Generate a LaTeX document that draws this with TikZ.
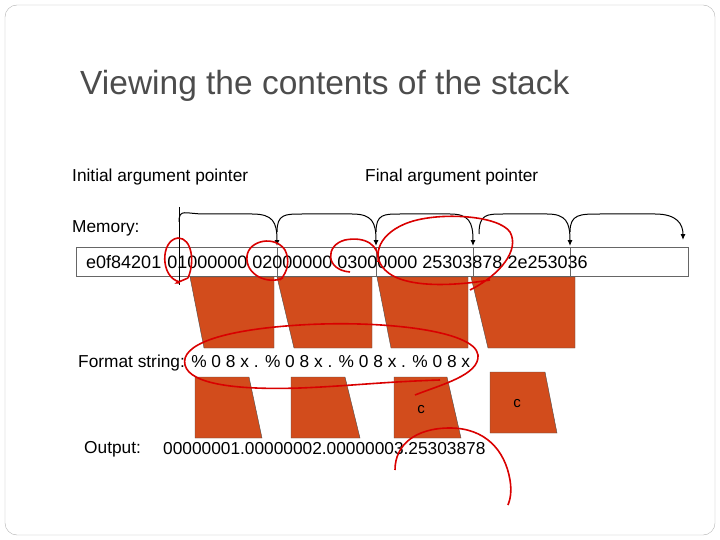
\documentclass[tikz,border=0pt]{standalone}
\usepackage{fontspec}
\setmainfont{Liberation Sans}
\usetikzlibrary{arrows.meta}
\definecolor{rust}{RGB}{210,76,28}
\begin{document}
\begin{tikzpicture}[x=1pt,y=-1pt,
  lbl/.style={anchor=west,inner sep=0pt,font=\fontsize{17.3}{19}\selectfont},
  trap/.style={fill=rust,draw=black!70,line width=0.4pt},
  arc/.style={draw=black,line width=1pt,-{Latex[length=6pt,width=5pt]}},
  ann/.style={draw=red!85!black,line width=1.6pt}]
\useasboundingbox (0,0) rectangle (720,540);
\draw[black!30,rounded corners=12pt] (5,5) rectangle (715,535);
\node[anchor=west,inner sep=0pt,text=black!70,font=\fontsize{33.5}{36}\selectfont] (title) at (80,86) {Viewing the contents of the stack};
\node[lbl] (ini) at (72,177) {Initial argument pointer};
\node[lbl] (fin) at (365,177) {Final argument pointer};
\node[lbl] (memlbl) at (72,228) {Memory:};
% memory box
\draw[black!60] (76,247) rectangle (688,276);
\foreach \x in {179,277,376,473,570} \draw[black!60] (\x,247) -- (\x,276);
\node[lbl,font=\fontsize{18}{20}\selectfont] (mem) at (86,262) {e0f84201\hspace{6pt}01000000 02000000 03000000 25303878 2e253036};
% pointer line
\draw[black,line width=1pt] (179,207) -- (179,285);
\coordinate (p0) at (179,222);
\coordinate (p1) at (277,246);
\coordinate (p2) at (376,246);
\coordinate (p3) at (473,246);
\coordinate (p3s) at (479,234);
\coordinate (p4) at (570,246);
\coordinate (p5) at (683,240);
\draw[arc] (p0) .. controls (179,208) and (185,214) .. (205,214) -- (252,214) .. controls (273,214) and (277,222) .. (p1);
\draw[arc] (277,232) .. controls (277,214) and (285,214) .. (302,214) -- (352,214) .. controls (372,214) and (376,222) .. (p2);
\draw[arc] (376,232) .. controls (376,214) and (384,214) .. (400,214) -- (450,214) .. controls (469,214) and (473,222) .. (p3);
\draw[arc] (p3s) .. controls (479,214) and (487,214) .. (503,214) -- (547,214) .. controls (566,214) and (570,222) .. (p4);
\draw[arc] (570,232) .. controls (570,214) and (580,214) .. (600,214) -- (655,214) .. controls (677,214) and (683,224) .. (p5);
% top trapezoids
\draw[trap] (190,277) -- (274,277) -- (274,348) -- (204,348) -- cycle;
\draw[trap] (277,277) -- (372,277) -- (372,348) -- (294,348) -- cycle;
\draw[trap] (377,277) -- (468,277) -- (468,348) -- (391,348) -- cycle;
\draw[trap] (471,277) -- (575,277) -- (575,348) -- (488,348) -- cycle;
\node[lbl] (fmt) at (78,363) {Format string: \% 0 8 x . \% 0 8 x . \% 0 8 x . \% 0 8 x};
% bottom trapezoids
\draw[trap] (195,377) -- (249,377) -- (262,438) -- (195,438) -- cycle;
\draw[trap] (291,377) -- (345,377) -- (360,438) -- (291,438) -- cycle;
\draw[trap] (394,377) -- (447,377) -- (461,438) -- (394,438) -- cycle;
\draw[trap] (490,372) -- (545,372) -- (557,433) -- (490,433) -- cycle;
\node[inner sep=0pt,font=\fontsize{15}{17}\selectfont] (c1) at (421,410) {c};
\node[inner sep=0pt,font=\fontsize{15}{17}\selectfont] (c2) at (517,404) {c};
\node[lbl] (outl) at (84,449) {Output:};
\node[lbl] (outv) at (163,449) {00000001.00000002.00000003.25303878};
% red annotations
\draw[ann] (180,282) .. controls (160,278) and (160,240) .. (178,238) .. controls (192,238) and (195,262) .. (188,278);
\draw[ann,-{Latex[length=5pt]}] (188,278) -- (174,284);
\draw[ann] (283,278) .. controls (268,285) and (245,275) .. (247,256) .. controls (249,240) and (275,235) .. (285,250) .. controls (290,260) and (288,272) .. (280,280);
\draw[ann] (350,272) .. controls (325,270) and (325,245) .. (345,240) .. controls (365,236) and (380,245) .. (378,262);
\draw[ann] (470,290) .. controls (500,275) and (520,250) .. (510,232) .. controls (498,215) and (440,212) .. (410,222) .. controls (380,232) and (370,255) .. (385,270) .. controls (405,290) and (460,285) .. (490,280);
\draw[ann] (415,395) .. controls (440,385) and (480,375) .. (478,355) .. controls (475,330) and (380,320) .. (300,325) .. controls (220,330) and (180,345) .. (185,365) .. controls (190,385) and (240,390) .. (300,388) .. controls (350,386) and (380,382) .. (440,380);
\draw[ann] (395,470) .. controls (395,445) and (415,428) .. (450,428) .. controls (485,428) and (505,450) .. (510,480) .. controls (512,492) and (510,500) .. (508,505);
\end{tikzpicture}
\end{document}
